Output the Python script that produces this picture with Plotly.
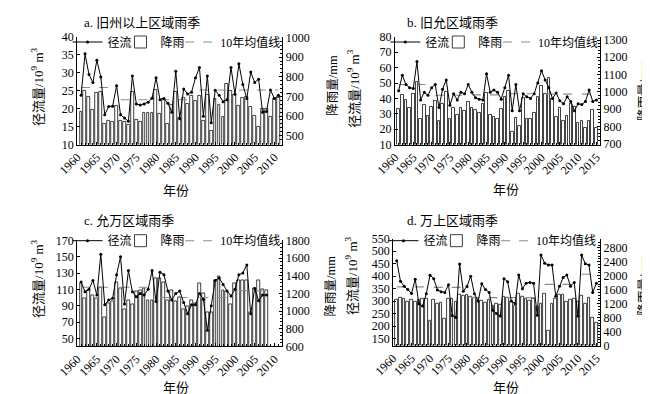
import plotly.graph_objects as go

# ---------------- data ----------------
titles = ["a. 旧州以上区域雨季", "b. 旧允区域雨季", "c. 允万区域雨季", "d. 万上区域雨季"]
name_runoff = "径流"
name_rain = "降雨"
name_mean = "10年均值线"
x_title = "年份"
left_title = "径流量/10<sup>9</sup> m<sup>3</sup>"
right_title = "降雨量/mm"

# a. 旧州以上区域雨季 (1961-2011)
years_a = list(range(1961, 2012))
runoff_a = [23.7, 35.3, 29.5, 27.3, 33.5, 28.8, 18.3, 20.6, 20.7, 26.4,
            18.3, 17.4, 16.5, 29.1, 21.3, 21.0, 21.3, 21.8, 22.9, 28.6,
            22.5, 22.8, 21.5, 19.0, 30.4, 17.2, 25.5, 24.1, 24.6, 28.6,
            31.5, 17.9, 29.1, 16.1, 25.1, 23.7, 21.9, 22.5, 31.5, 24.0,
            32.5, 26.7, 22.8, 30.2, 27.3, 28.2, 19.0, 19.2, 25.2, 22.8, 23.7]
rain_a = [623, 726, 700, 631, 718, 725, 562, 574, 569, 651,
          577, 569, 557, 721, 582, 569, 615, 618, 618, 734,
          611, 685, 562, 656, 721, 590, 692, 664, 705, 675,
          702, 577, 710, 525, 689, 659, 598, 762, 726, 708,
          652, 692, 700, 648, 603, 546, 636, 634, 598, 685, 690]
mean_start_a = [1961, 1971, 1981, 1991, 2001]
mean_end_a = [1970, 1980, 1990, 2000, 2011]
mean_val_a = [25.9, 22.5, 22.5, 25.2, 25.2]

# b. 旧允区域雨季 (1961-2015)
years_b = list(range(1961, 2016))
runoff_b = [45.0, 55.0, 49.0, 47.0, 46.5, 64.0, 39.0, 44.0, 42.0, 47.0,
            49.0, 34.0, 46.0, 52.0, 35.5, 43.0, 39.0, 44.0, 43.0, 49.0,
            44.0, 40.5, 39.5, 39.0, 56.0, 44.0, 45.5, 44.0, 39.5, 47.0,
            55.0, 32.0, 49.0, 32.0, 43.0, 41.0, 40.0, 43.0, 50.0, 58.0,
            52.0, 47.0, 40.0, 43.5, 38.5, 36.5, 41.0, 38.0, 32.0, 36.5,
            36.0, 38.0, 45.5, 38.0, 39.0]
rain_b = [901, 980, 952, 905, 989, 1058, 846, 924, 859, 915,
          946, 831, 933, 1002, 846, 905, 868, 909, 887, 942,
          905, 896, 877, 933, 995, 868, 853, 846, 901, 970,
          1004, 771, 849, 803, 965, 846, 846, 877, 970, 1036,
          989, 1082, 957, 853, 905, 831, 859, 933, 915, 822,
          831, 793, 831, 896, 793]
mean_start_b = [1961, 1971, 1981, 1991, 2001, 2011]
mean_end_b = [1970, 1980, 1990, 2000, 2010, 2015]
mean_val_b = [49.0, 42.0, 42.3, 43.0, 42.8, 42.8]

# c. 允万区域雨季 (1961-2008)
years_c = list(range(1961, 2009))
runoff_c = [119, 107, 110, 121, 103, 153, 91, 97, 99, 128,
            150, 92, 133, 107, 101, 105, 103, 110, 133, 95,
            131, 128, 108, 97, 105, 108, 94, 80, 91, 91,
            105, 98, 60, 90, 121, 124, 116, 108, 102, 110,
            128, 130, 140, 80, 111, 96, 103, 103]
rain_c = [1309, 1145, 1236, 1182, 1145, 1265, 927, 1084, 1109, 1327,
          1255, 1025, 1116, 1073, 1218, 1229, 1255, 1127, 1127, 1375,
          1375, 1330, 1127, 1229, 1109, 1156, 1018, 1055, 1127, 1084,
          1316, 1200, 989, 982, 1353, 1389, 1236, 1218, 1073, 1309,
          1353, 1353, 1353, 982, 1255, 1353, 1244, 1240]
mean_start_c = [1961, 1971, 1981, 1991, 2001]
mean_end_c = [1970, 1980, 1990, 2000, 2008]
mean_val_c = [112.6, 112.6, 100.0, 100.0, 108.3]

# d. 万上区域雨季 (1961-2015)
years_d = list(range(1961, 2016))
runoff_d = [462, 380, 360, 347, 331, 388, 289, 280, 330, 404,
            390, 345, 338, 335, 366, 242, 234, 449, 340, 359,
            400, 330, 300, 370, 347, 335, 263, 250, 240, 390,
            378, 300, 290, 405, 350, 372, 375, 372, 243, 485,
            452, 445, 445, 320, 360, 395, 405, 360, 375, 240,
            485, 450, 445, 335, 372]
rain_d = [1300, 1380, 1340, 1250, 1310, 1260, 1320, 1350, 1340, 700,
          1300, 1200, 1240, 780, 1340, 1340, 1250, 1450, 1440, 1450,
          1400, 1380, 1300, 1290, 1240, 1300, 1150, 1200, 1160, 1400,
          1380, 1250, 1150, 1480, 1400, 1350, 1280, 1350, 1100, 1200,
          1480, 420, 1200, 1350, 1450, 1450, 1250, 1300, 1350, 1250,
          1420, 1200, 1380, 800, 650]
mean_start_d = [1961, 1971, 1981, 1991, 2001, 2011]
mean_end_d = [1970, 1980, 1990, 2000, 2010, 2015]
mean_val_d = [357, 355, 314, 314, 367, 408]

year_ticks_50 = list(range(1960, 2011, 5))
year_ticks_55 = list(range(1960, 2016, 5))

# ---------------- layout settings ----------------
W, H = 650, 394
def px(x):
    return x / W
def py(y):
    return 1 - y / H

NUM_FONT = "Liberation Serif, Noto Sans CJK SC, serif"
TXT_FONT = "Liberation Serif, Noto Sans CJK SC, serif"

panels = [
    dict(years=years_a, runoff=runoff_a, rain=rain_a, ms=mean_start_a, me=mean_end_a, mv=mean_val_a,
         xticks=year_ticks_50, xr=[1960, 2012], lr=[10, 40], lt0=10, ldt=5,
         rr=[455, 1003], rt0=500, rdt=100, rminor=20,
         box=(50, 263, 22.7, 134.3), title_xy=(55, 8), ltitle_xy=(9, 74), rtitle_xy=(316, 73),
         xtitle_xy=(153, 182), legend_y=28),
    dict(years=years_b, runoff=runoff_b, rain=rain_b, ms=mean_start_b, me=mean_end_b, mv=mean_val_b,
         xticks=year_ticks_55, xr=[1960, 2016], lr=[10, 80], lt0=10, ldt=10,
         rr=[695, 1318], rt0=700, rdt=100, rminor=20,
         box=(380, 593, 22.7, 134.3), title_xy=(390, 8), ltitle_xy=(337, 76), rtitle_xy=(639, 78),
         xtitle_xy=(495, 181), legend_y=28),
    dict(years=years_c, runoff=runoff_c, rain=rain_c, ms=mean_start_c, me=mean_end_c, mv=mean_val_c,
         xticks=year_ticks_50, xr=[1960, 2012], lr=[40, 170], lt0=50, ldt=20,
         rr=[600, 1800], rt0=600, rdt=200, rminor=40,
         box=(50, 263, 233.7, 343.7), title_xy=(55, 213), ltitle_xy=(9, 273), rtitle_xy=(314, 281),
         xtitle_xy=(153, 386), legend_y=234),
    dict(years=years_d, runoff=runoff_d, rain=rain_d, ms=mean_start_d, me=mean_end_d, mv=mean_val_d,
         xticks=year_ticks_55, xr=[1960, 2016], lr=[122, 550], lt0=150, ldt=50,
         rr=[0, 3060], rt0=0, rdt=400, rminor=80,
         box=(378, 593, 232, 342.7), title_xy=(390, 213), ltitle_xy=(335, 270), rtitle_xy=(639, 280),
         xtitle_xy=(495, 386), legend_y=234),
]
# legend entry left positions relative to the plot's left edge (px)
legend_dx = [-10, 45, 107]

fig = go.Figure()
layout = dict(width=W, height=H, margin=dict(l=0, r=0, t=0, b=0),
              paper_bgcolor="white", plot_bgcolor="white", showlegend=True,
              bargap=0, font=dict(family=NUM_FONT, size=12, color="black"))
annotations = []

def legend_key(k):
    return "legend" if k == 1 else f"legend{k}"

for i, p in enumerate(panels):
    n = i + 1
    xa = "x" if n == 1 else f"x{n}"
    yb_i = 2 * i + 1            # base axis: rainfall (right side)
    yo_i = 2 * i + 2            # overlay axis: runoff (left side)
    yb = "y" if yb_i == 1 else f"y{yb_i}"
    yo = f"y{yo_i}"
    x0, x1, ytop, ybot = p["box"]
    leg_run = legend_key(3 * i + 1)
    leg_rain = legend_key(3 * i + 2)
    leg_mean = legend_key(3 * i + 3)

    # rainfall bars
    fig.add_trace(go.Bar(x=p["years"], y=p["rain"], name=name_rain, xaxis=xa, yaxis=yb,
                         width=0.72, marker=dict(color="white", line=dict(color="#2a2a2a", width=0.9)),
                         legend=leg_rain))
    # decade means
    mx, my = [], []
    for s, e, v in zip(p["ms"], p["me"], p["mv"]):
        mx += [s, e, None]
        my += [v, v, None]
    fig.add_trace(go.Scatter(x=mx, y=my, mode="lines", name=name_mean, xaxis=xa, yaxis=yo,
                             line=dict(color="#8c8c8c", width=1.1, dash="dash"),
                             legend=leg_mean, connectgaps=False))
    # runoff line
    fig.add_trace(go.Scatter(x=p["years"], y=p["runoff"], mode="lines+markers", name=name_runoff,
                             xaxis=xa, yaxis=yo, line=dict(color="black", width=1),
                             marker=dict(size=3, color="black"), legend=leg_run))

    xkey = "xaxis" if n == 1 else f"xaxis{n}"
    ybkey = "yaxis" if yb_i == 1 else f"yaxis{yb_i}"
    yokey = f"yaxis{yo_i}"
    dom_y = [py(ybot), py(ytop)]
    layout[xkey] = dict(domain=[px(x0), px(x1)], anchor=yb, range=p["xr"], tickmode="array",
                        tickvals=p["xticks"], ticktext=[str(t) for t in p["xticks"]], tickangle=-45,
                        ticks="inside", ticklen=3, tickcolor="black", showline=True, linecolor="black",
                        linewidth=1, showgrid=False, zeroline=False,
                        tickfont=dict(family=NUM_FONT, size=12),
                        minor=dict(dtick=1, tick0=1960, ticks="inside", ticklen=2, tickcolor="black"))
    layout[ybkey] = dict(domain=dom_y, anchor=xa, side="right", range=p["rr"], tick0=p["rt0"],
                         dtick=p["rdt"], ticks="inside", ticklen=3, tickcolor="black", showline=True,
                         linecolor="black", linewidth=1, showgrid=False, zeroline=False,
                         tickfont=dict(family=NUM_FONT, size=12),
                         minor=dict(dtick=p["rminor"], ticks="inside", ticklen=2, tickcolor="black"))
    layout[yokey] = dict(overlaying=yb, anchor=xa, side="left", range=p["lr"], tick0=p["lt0"],
                         dtick=p["ldt"], ticks="inside", ticklen=3, tickcolor="black", showline=True,
                         linecolor="black", linewidth=1, showgrid=False, zeroline=False,
                         tickfont=dict(family=NUM_FONT, size=12))
    for key, dx in zip([leg_run, leg_rain, leg_mean], legend_dx):
        layout[key] = dict(orientation="h", x=px(x0 + dx), y=py(p["legend_y"]), xanchor="left",
                           yanchor="middle", bgcolor="rgba(0,0,0,0)",
                           font=dict(family=TXT_FONT, size=12), itemwidth=30)

    tx, ty = p["title_xy"]
    annotations.append(dict(text=titles[i], x=px(tx), y=py(ty), xref="paper", yref="paper",
                            xanchor="left", yanchor="middle", showarrow=False,
                            font=dict(family=TXT_FONT, size=13)))
    ax_, ay_ = p["ltitle_xy"]
    annotations.append(dict(text=left_title, x=px(ax_), y=py(ay_), xref="paper", yref="paper",
                            xanchor="center", yanchor="middle", showarrow=False, textangle=-90,
                            font=dict(family=TXT_FONT, size=13)))
    rx_, ry_ = p["rtitle_xy"]
    annotations.append(dict(text=right_title, x=px(rx_), y=py(ry_), xref="paper", yref="paper",
                            xanchor="center", yanchor="middle", showarrow=False, textangle=-90,
                            font=dict(family=TXT_FONT, size=12.5)))
    gx, gy = p["xtitle_xy"]
    annotations.append(dict(text=x_title, x=px(gx), y=py(gy), xref="paper", yref="paper",
                            xanchor="center", yanchor="middle", showarrow=False,
                            font=dict(family=TXT_FONT, size=13)))

layout["annotations"] = annotations
fig.update_layout(**layout)
fig.write_html("out.html")
